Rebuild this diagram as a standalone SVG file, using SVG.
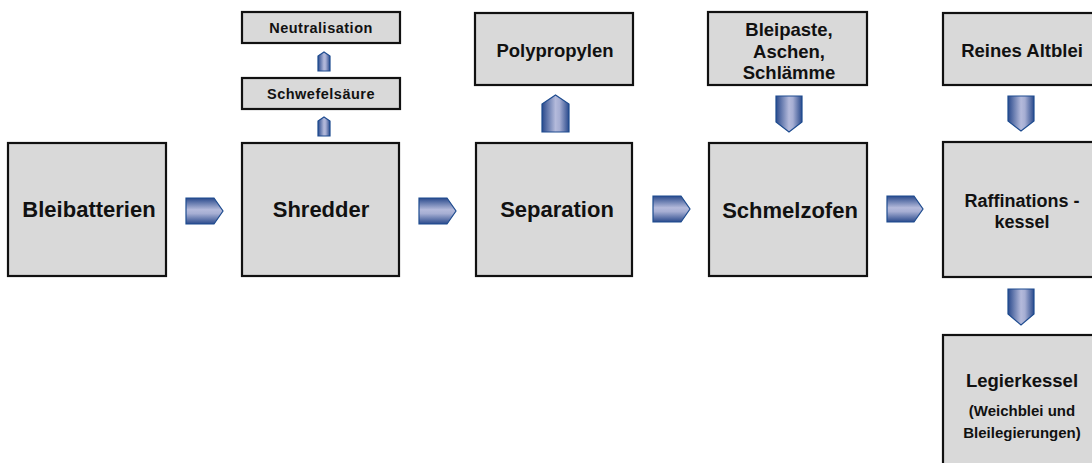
<svg xmlns="http://www.w3.org/2000/svg" width="1092" height="463" viewBox="0 0 1092 463">
  <defs>
    <!-- shading for the block arrows: dark rim, light core -->
    <linearGradient id="gradH" x1="0" y1="0" x2="0" y2="1">
      <stop offset="0" stop-color="#2a4a8c"/>
      <stop offset="0.45" stop-color="#b4badb"/>
      <stop offset="0.6" stop-color="#a6aed3"/>
      <stop offset="1" stop-color="#2a4a8c"/>
    </linearGradient>
    <linearGradient id="gradV" x1="0" y1="0" x2="1" y2="0">
      <stop offset="0" stop-color="#2a4a8c"/>
      <stop offset="0.5" stop-color="#b4badb"/>
      <stop offset="0.65" stop-color="#a6aed3"/>
      <stop offset="1" stop-color="#2a4a8c"/>
    </linearGradient>
  </defs>
  <style>
    .box { fill: #d9d9d9; stroke: #111; stroke-width: 2.2; }
    .t { font-family: "Liberation Sans", Arial, sans-serif; font-weight: bold; fill: #111; text-anchor: middle; }
    .big { font-size: 22px; }
    .mid { font-size: 18.5px; }
    .raf { font-size: 18px; }
    .small { font-size: 14.5px; letter-spacing: 0.5px; }
    .note { font-size: 15px; }
    .ah { fill: url(#gradH); stroke: #1d4b8f; stroke-width: 1.2; stroke-linejoin: miter; }
    .av { fill: url(#gradV); stroke: #1d4b8f; stroke-width: 1.2; stroke-linejoin: miter; }
  </style>

  <rect width="1092" height="463" fill="#fff"/>

  <!-- process boxes -->
  <g id="bleibatterien">
    <rect class="box" x="8" y="143" width="158" height="133"/>
    <text class="t big" x="89" y="217">Bleibatterien</text>
  </g>
  <g id="shredder">
    <rect class="box" x="242" y="143" width="157" height="133"/>
    <text class="t big" x="321" y="217">Shredder</text>
  </g>
  <g id="schwefelsaeure">
    <rect class="box" x="242" y="78" width="158" height="31"/>
    <text class="t small" x="321" y="99">Schwefelsäure</text>
  </g>
  <g id="neutralisation">
    <rect class="box" x="242" y="12" width="158" height="31"/>
    <text class="t small" x="321" y="33">Neutralisation</text>
  </g>
  <g id="separation">
    <rect class="box" x="476" y="143" width="156" height="133"/>
    <text class="t big" x="557" y="217">Separation</text>
  </g>
  <g id="polypropylen">
    <rect class="box" x="475" y="13" width="158" height="72"/>
    <text class="t mid" x="555" y="57">Polypropylen</text>
  </g>
  <g id="schmelzofen">
    <rect class="box" x="709" y="143" width="158" height="133"/>
    <text class="t big" x="790" y="218">Schmelzofen</text>
  </g>
  <g id="bleipaste">
    <rect class="box" x="708" y="12" width="159" height="73"/>
    <text class="t mid" x="789" y="36">Bleipaste,</text>
    <text class="t mid" x="789" y="58">Aschen,</text>
    <text class="t mid" x="789" y="79">Schlämme</text>
  </g>
  <g id="raffinationskessel">
    <rect class="box" x="943" y="142" width="160" height="135"/>
    <text class="t raf" x="1022" y="207">Raffinations -</text>
    <text class="t raf" x="1022" y="228">kessel</text>
  </g>
  <g id="reines-altblei">
    <rect class="box" x="943" y="13" width="160" height="72"/>
    <text class="t mid" x="1022" y="57">Reines Altblei</text>
  </g>
  <g id="legierkessel">
    <rect class="box" x="943" y="335" width="160" height="140"/>
    <text class="t mid" x="1022" y="387">Legierkessel</text>
    <text class="t note" x="1022" y="416">(Weichblei und</text>
    <text class="t note" x="1022" y="438">Bleilegierungen)</text>
  </g>

  <!-- block arrows between the stages -->
  <g id="connectors">
    <path class="ah" d="M186,198 H214 L223,211 L214,224 H186 Z"/>
    <path class="ah" d="M419,198 H447 L456,211 L447,224 H419 Z"/>
    <path class="ah" d="M653,196 H681 L690,209 L681,222 H653 Z"/>
    <path class="ah" d="M887,196 H914 L923,209 L914,222 H887 Z"/>

    <path class="av" d="M318,71 V56 L324,52 L330,56 V71 Z"/>
    <path class="av" d="M318,136 V121 L324,117 L330,121 V136 Z"/>
    <path class="av" d="M542,132 V104 L555.5,95 L569,104 V132 Z"/>

    <path class="av" d="M776,96 H802 V122 L789,132 L776,122 Z"/>
    <path class="av" d="M1008,96 H1034 V121 L1021,131 L1008,121 Z"/>
    <path class="av" d="M1008,289 H1034 V314 L1021,325 L1008,314 Z"/>
  </g>
</svg>
